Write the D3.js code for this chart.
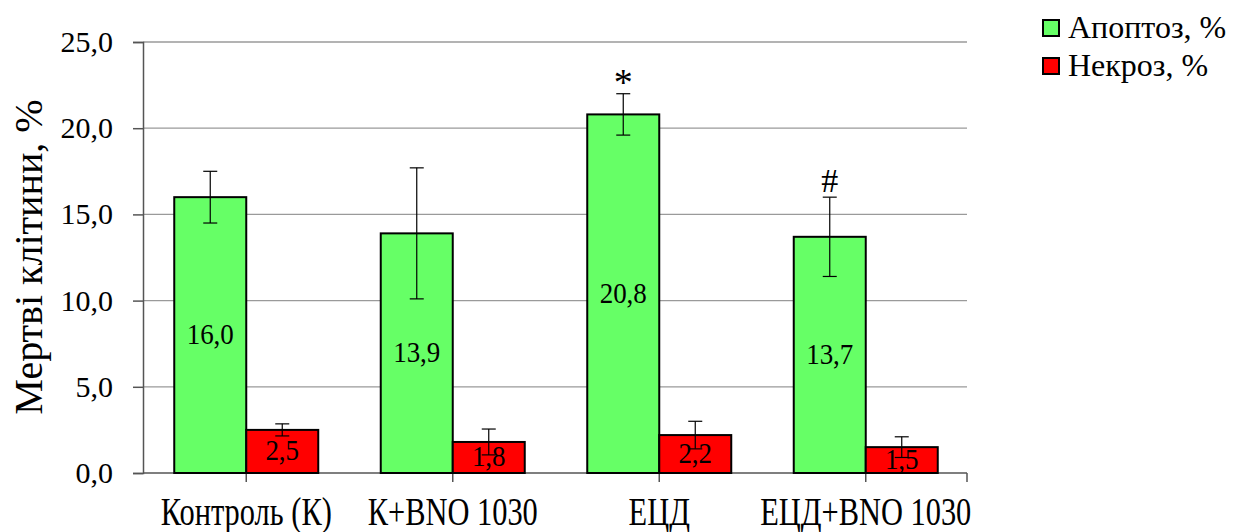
<!DOCTYPE html>
<html>
<head>
<meta charset="utf-8">
<script src="https://cdn.jsdelivr.net/npm/d3@7"></script>
</head>
<body style="margin:0">
<script>
const categories = ["Контроль (К)", "К+BNO 1030", "ЕЦД", "ЕЦД+BNO 1030"];
const seriesNames = ["Апоптоз, %", "Некроз, %"];
const apoptosis = [16.0, 13.9, 20.8, 13.7];
const apoptosisErr = [1.5, 3.8, 1.2, 2.3];
const necrosis = [2.5, 1.8, 2.2, 1.5];
const necrosisErr = [0.35, 0.75, 0.8, 0.6];
const marks = ["", "", "*", "#"];
const yTicks = [0, 5, 10, 15, 20, 25];

const width = 1234, height = 532;
const colors = ["#66ff66", "#ff0000"];
const serif = "Liberation Serif";

const svg = d3.select("body").append("svg")
    .attr("width", width)
    .attr("height", height)
    .attr("font-family", serif);

const y = d3.scaleLinear().domain([0, 25]).range([473, 42]);
const x0 = d3.scaleBand().domain(categories).range([143, 969]).padding(0);
const x1 = d3.scaleBand().domain(seriesNames).range([0, x0.bandwidth()])
    .paddingInner(0).paddingOuter(0.434);

const fmt = v => d3.format(".1f")(v).replace(".", ",");

// gridlines
svg.append("g").selectAll("line")
    .data(yTicks.filter(d => d > 0))
    .join("line")
    .attr("x1", 143).attr("x2", 967)
    .attr("y1", d => y(d)).attr("y2", d => y(d))
    .attr("stroke", "#9a9a9a").attr("stroke-width", 1.3);

// y axis: ticks drawn by d3, labels written separately
const yAxis = svg.append("g")
    .attr("transform", "translate(143,0)")
    .call(d3.axisLeft(y).tickValues(yTicks).tickSize(10).tickFormat(""));
yAxis.select(".domain").attr("stroke", "#555").attr("stroke-width", 1.5);
yAxis.selectAll(".tick line").attr("stroke", "#555").attr("stroke-width", 1.5);

svg.selectAll("text.ytick")
    .data(yTicks)
    .join("text")
    .attr("class", "ytick")
    .attr("x", 113)
    .attr("y", d => y(d) + 10)
    .attr("text-anchor", "end")
    .attr("font-family", serif)
    .attr("font-size", 30)
    .text(fmt);

// x axis line and ticks
svg.append("line")
    .attr("x1", 143).attr("x2", 967)
    .attr("y1", y(0)).attr("y2", y(0))
    .attr("stroke", "#555").attr("stroke-width", 1.5);
const xTickPos = categories.map(c => x0(c) + x0.bandwidth() / 2).concat([967]);
svg.append("g").selectAll("line")
    .data(xTickPos)
    .join("line")
    .attr("x1", d => d).attr("x2", d => d)
    .attr("y1", y(0)).attr("y2", y(0) + 9)
    .attr("stroke", "#555").attr("stroke-width", 1.5);

// category labels (condensed serif)
svg.selectAll("text.cat")
    .data(categories)
    .join("text")
    .attr("class", "cat")
    .attr("transform", d => `translate(${x0(d) + x0.bandwidth() / 2},525) scale(0.78,1)`)
    .attr("text-anchor", "middle")
    .attr("font-family", serif)
    .attr("font-size", 39)
    .text(d => d);

// y title
svg.append("text")
    .attr("transform", "translate(42,257) rotate(-90)")
    .attr("text-anchor", "middle")
    .attr("font-family", serif)
    .attr("font-size", 40)
    .text("Мертві клітини, %");

// bars
const rows = categories.map((c, i) => ({
    cat: c,
    mark: marks[i],
    vals: [
        {s: seriesNames[0], v: apoptosis[i], e: apoptosisErr[i], k: 0},
        {s: seriesNames[1], v: necrosis[i], e: necrosisErr[i], k: 1}
    ]
}));

const groups = svg.append("g").selectAll("g")
    .data(rows)
    .join("g")
    .attr("transform", d => `translate(${x0(d.cat)},0)`);

groups.selectAll("rect")
    .data(d => d.vals)
    .join("rect")
    .attr("x", d => x1(d.s))
    .attr("width", x1.bandwidth())
    .attr("y", d => y(d.v))
    .attr("height", d => y(0) - y(d.v))
    .attr("fill", d => colors[d.k])
    .attr("stroke", "#000")
    .attr("stroke-width", 2);

groups.selectAll("text.val")
    .data(d => d.vals)
    .join("text")
    .attr("class", "val")
    .attr("transform", d => `translate(${x1(d.s) + x1.bandwidth() / 2},${(y(d.v) + y(0)) / 2 + 9}) scale(0.9,1)`)
    .attr("text-anchor", "middle")
    .attr("font-family", serif)
    .attr("font-size", 30)
    .text(d => fmt(d.v));

// error bars
const err = groups.selectAll("g.err")
    .data(d => d.vals)
    .join("g")
    .attr("class", "err")
    .attr("stroke", "#000")
    .attr("stroke-width", 1.2);
err.append("line")
    .attr("x1", d => x1(d.s) + x1.bandwidth() / 2)
    .attr("x2", d => x1(d.s) + x1.bandwidth() / 2)
    .attr("y1", d => y(d.v + d.e))
    .attr("y2", d => y(d.v - d.e));
[1, -1].forEach(sign => {
    err.append("line")
        .attr("x1", d => x1(d.s) + x1.bandwidth() / 2 - 7)
        .attr("x2", d => x1(d.s) + x1.bandwidth() / 2 + 7)
        .attr("y1", d => y(d.v + sign * d.e))
        .attr("y2", d => y(d.v + sign * d.e));
});

// significance marks (asterisk glyph sits high, so it needs less lift)
groups.append("text")
    .attr("x", d => x1(seriesNames[0]) + x1.bandwidth() / 2)
    .attr("y", d => y(d.vals[0].v + d.vals[0].e) - (d.mark === "*" ? -1 : 5))
    .attr("text-anchor", "middle")
    .attr("font-family", serif)
    .attr("font-size", d => d.mark === "*" ? 38 : 34)
    .text(d => d.mark);

// legend
const legend = svg.append("g").selectAll("g")
    .data(seriesNames)
    .join("g")
    .attr("transform", (d, i) => `translate(1043,${20 + i * 38})`);
legend.append("rect")
    .attr("width", 16).attr("height", 16)
    .attr("fill", (d, i) => colors[i])
    .attr("stroke", "#000").attr("stroke-width", 2);
legend.append("text")
    .attr("x", 25).attr("y", 18)
    .attr("font-family", serif)
    .attr("font-size", 32)
    .text(d => d);
</script>
</body>
</html>
